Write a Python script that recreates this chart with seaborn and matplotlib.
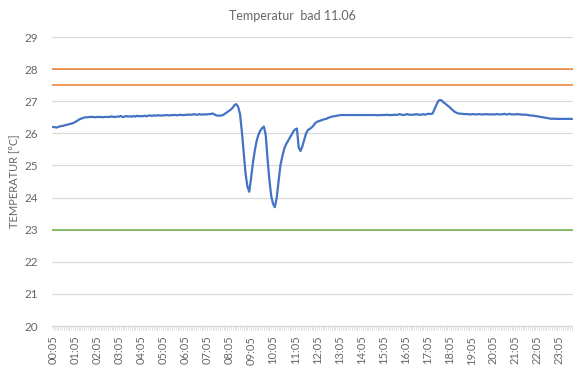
import matplotlib
matplotlib.use("Agg")
import matplotlib.pyplot as plt
import numpy as np
import pandas as pd
import seaborn as sns

# Bathroom temperature, logged every 5 minutes from 00:05
temperature = [
    26.20, 26.19, 26.18, 26.20, 26.22, 26.23, 26.24, 26.26, 26.27, 26.29, 26.30, 26.32,  # 00
    26.35, 26.38, 26.42, 26.45, 26.47, 26.49, 26.50, 26.50, 26.51, 26.51, 26.51, 26.50,  # 01
    26.51, 26.51, 26.51, 26.50, 26.51, 26.51, 26.51, 26.51, 26.53, 26.51, 26.51, 26.52,  # 02
    26.52, 26.54, 26.51, 26.52, 26.54, 26.52, 26.53, 26.52, 26.54, 26.52, 26.55, 26.53,  # 03
    26.54, 26.53, 26.55, 26.53, 26.55, 26.56, 26.54, 26.56, 26.55, 26.56, 26.56, 26.55,  # 04
    26.56, 26.56, 26.57, 26.56, 26.56, 26.57, 26.57, 26.57, 26.56, 26.58, 26.57, 26.57,  # 05
    26.57, 26.58, 26.58, 26.58, 26.58, 26.60, 26.58, 26.58, 26.60, 26.58, 26.59, 26.59,  # 06
    26.59, 26.60, 26.60, 26.62, 26.59, 26.56, 26.55, 26.55, 26.56, 26.58, 26.62, 26.66,  # 07
    26.70, 26.74, 26.80, 26.88, 26.91, 26.82, 26.60, 26.05, 25.40, 24.75, 24.35, 24.18,  # 08
    24.60, 25.07, 25.45, 25.75, 25.95, 26.08, 26.16, 26.21, 25.95, 25.20, 24.55, 24.05,  # 09
    23.80, 23.70, 24.00, 24.50, 25.00, 25.27, 25.50, 25.65, 25.75, 25.85, 25.95, 26.05,  # 10
    26.12, 26.15, 25.55, 25.45, 25.60, 25.80, 26.00, 26.10, 26.14, 26.18, 26.24, 26.32,  # 11
    26.36, 26.38, 26.40, 26.42, 26.44, 26.45, 26.48, 26.50, 26.52, 26.53, 26.54, 26.55,  # 12
    26.56, 26.57, 26.57, 26.57, 26.57, 26.57, 26.57, 26.57, 26.57, 26.57, 26.57, 26.57,  # 13
    26.57, 26.57, 26.57, 26.57, 26.57, 26.57, 26.57, 26.57, 26.57, 26.56, 26.57, 26.57,  # 14
    26.57, 26.57, 26.58, 26.57, 26.57, 26.57, 26.58, 26.57, 26.58, 26.60, 26.58, 26.57,  # 15
    26.58, 26.60, 26.58, 26.58, 26.58, 26.58, 26.60, 26.58, 26.58, 26.58, 26.60, 26.58,  # 16
    26.60, 26.61, 26.60, 26.62, 26.75, 26.88, 27.00, 27.04, 27.02, 26.96, 26.92, 26.87,  # 17
    26.83, 26.77, 26.72, 26.67, 26.64, 26.62, 26.61, 26.61, 26.60, 26.60, 26.60, 26.59,  # 18
    26.59, 26.60, 26.59, 26.59, 26.60, 26.59, 26.59, 26.59, 26.60, 26.59, 26.59, 26.59,  # 19
    26.59, 26.59, 26.60, 26.59, 26.59, 26.59, 26.61, 26.59, 26.59, 26.61, 26.59, 26.59,  # 20
    26.59, 26.60, 26.59, 26.59, 26.58, 26.58, 26.58, 26.57, 26.56, 26.55, 26.55, 26.54,  # 21
    26.53, 26.52, 26.51, 26.50, 26.49, 26.48, 26.47, 26.46, 26.45, 26.46, 26.45, 26.45,  # 22
    26.45, 26.45, 26.45, 26.45, 26.45, 26.45, 26.45, 26.45,                              # 23
]

# Time-of-day categories for each reading
times = [f"{(5 + 5 * k) // 60:02d}:{(5 + 5 * k) % 60:02d}" for k in range(len(temperature))]

# Comfort limits
upper_limits = [28.0, 27.5]
lower_limit = 23.0

title = "Temperatur  bad 11.06"
y_label = "TEMPERATUR [°C]"
y_ticks = [20, 21, 22, 23, 24, 25, 26, 27, 28, 29]

blue = "#4472C4"
orange = "#ED7D31"
green = "#70AD47"
grid = "#D9D9D9"
text_col = "#666666"

sns.set_theme(style="white")
plt.rcParams["font.family"] = ["Lato", "DejaVu Sans"]

df = pd.DataFrame({"pos": np.arange(len(temperature)), "time": times, "temp": temperature})

fig = plt.figure(figsize=(5.73, 3.68), dpi=100)
ax = fig.add_axes([52 / 573, 1 - 326 / 368, 1 - 52 / 573, (326 - 37) / 368])

ax.set_axisbelow(True)
ax.yaxis.grid(True, color=grid, linewidth=0.9)
ax.xaxis.grid(False)

for lim in upper_limits:
    ax.axhline(lim, color=orange, linewidth=1.1, zorder=2)
ax.axhline(lower_limit, color=green, linewidth=1.1, zorder=2)

sns.lineplot(data=df, x="pos", y="temp", ax=ax, color=blue, linewidth=1.6, zorder=3)

ax.set_xlim(-0.5, len(temperature) - 0.5)
ax.set_ylim(20, 29)
ax.set_yticks(y_ticks)
ax.set_yticklabels([str(v) for v in y_ticks])

major = list(range(0, len(temperature), 12))
ax.set_xticks(major)
ax.set_xticklabels([times[i] for i in major], rotation=90)
ax.set_xticks(np.arange(len(temperature)), minor=True)

ax.tick_params(axis="x", which="both", length=3, width=0.6, color=grid,
               direction="out", pad=4, labelsize=8, labelcolor=text_col, bottom=True)
ax.tick_params(axis="y", length=0, pad=10, labelsize=8.5, labelcolor=text_col)

for side in ["top", "right", "left"]:
    ax.spines[side].set_visible(False)
ax.spines["bottom"].set_color(grid)
ax.spines["bottom"].set_linewidth(0.9)

ax.set_xlabel("")
ax.set_ylabel(y_label, color=text_col, fontsize=8, labelpad=3)
fig.text(292 / 573, 1 - 16 / 368, title, ha="center", va="center", color=text_col, fontsize=9)

fig.savefig("out.png", dpi=100)
